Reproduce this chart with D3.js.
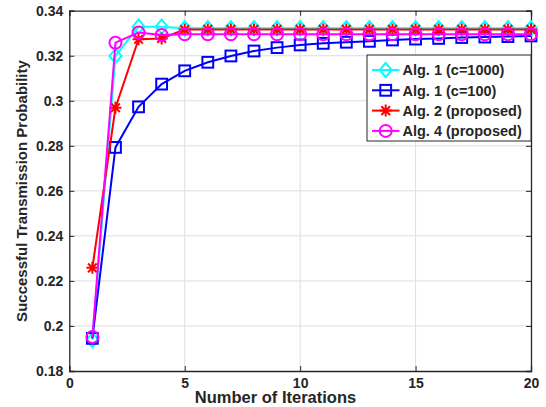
<!DOCTYPE html>
<html>
<head>
<meta charset="utf-8">
<script src="https://cdn.jsdelivr.net/npm/d3@7"></script>
<style>
  html, body { margin: 0; padding: 0; background: #fff; }
  svg text { font-family: "Liberation Sans", Arial, Helvetica, sans-serif; font-weight: bold; fill: #262626; }
</style>
</head>
<body>
<svg id="chart" width="546" height="407"></svg>
<script>
// Iteration index on the x axis
const iterations = [1, 2, 3, 4, 5, 6, 7, 8, 9, 10, 11, 12, 13, 14, 15, 16, 17, 18, 19, 20];

// Successful transmission probability per algorithm
const alg1c1000 = [0.1938, 0.3199, 0.3329, 0.3329, 0.3322, 0.3322, 0.3322, 0.3322, 0.3322, 0.3322,
                   0.3322, 0.3322, 0.3322, 0.3322, 0.3322, 0.3322, 0.3322, 0.3322, 0.3322, 0.3322];
const alg1c100  = [0.1945, 0.2793, 0.2973, 0.3074, 0.3133, 0.3171, 0.3199, 0.3221, 0.3236, 0.3248,
                   0.3255, 0.3260, 0.3264, 0.3270, 0.3274, 0.3277, 0.3281, 0.3283, 0.3285, 0.3288];
const alg2      = [0.2258, 0.2969, 0.3273, 0.3277, 0.3316, 0.3317, 0.3317, 0.3317, 0.3317, 0.3317,
                   0.3317, 0.3317, 0.3317, 0.3317, 0.3317, 0.3317, 0.3317, 0.3317, 0.3317, 0.3317];
const alg4      = [0.1951, 0.3258, 0.3303, 0.3292, 0.3295, 0.3295, 0.3295, 0.3295, 0.3295, 0.3295,
                   0.3295, 0.3295, 0.3295, 0.3295, 0.3295, 0.3295, 0.3295, 0.3295, 0.3295, 0.3295];

const seriesNames = ["Alg. 1 (c=1000)", "Alg. 1 (c=100)", "Alg. 2 (proposed)", "Alg. 4 (proposed)"];
const seriesColors = ["#00ffff", "#0000ff", "#ff0000", "#ff00ff"];
const seriesMarkers = ["diamond", "square", "asterisk", "circle"];
const seriesValues = [alg1c1000, alg1c100, alg2, alg4];

const xTicks = [0, 5, 10, 15, 20];
const yTicks = [0.18, 0.2, 0.22, 0.24, 0.26, 0.28, 0.3, 0.32, 0.34];

const svg = d3.select("#chart");
const plotLeft = 69.3, plotRight = 531, plotTop = 10.7, plotBottom = 371;

const x = d3.scaleLinear().domain([0, 20]).range([plotLeft, plotRight]);
const y = d3.scaleLinear().domain([0.18, 0.34]).range([plotBottom, plotTop]);

// grid
const grid = svg.append("g").attr("stroke", "#dedede").attr("stroke-width", 1);
grid.selectAll("line.gx").data(xTicks.slice(1, -1)).join("line")
  .attr("x1", d => x(d)).attr("x2", d => x(d)).attr("y1", plotTop).attr("y2", plotBottom);
grid.selectAll("line.gy").data(yTicks.slice(1, -1)).join("line")
  .attr("x1", plotLeft).attr("x2", plotRight).attr("y1", d => y(d)).attr("y2", d => y(d));

// axes (ticks inward, box on all four sides)
const axisColor = "#262626";
const fmtY = d => String(+d.toFixed(2));
const xAxis = svg.append("g").attr("transform", `translate(0,${plotBottom})`)
  .call(d3.axisBottom(x).tickValues(xTicks).tickSize(-5).tickPadding(10).tickFormat(d3.format("d")));
const yAxis = svg.append("g").attr("transform", `translate(${plotLeft},0)`)
  .call(d3.axisLeft(y).tickValues(yTicks).tickSize(-5).tickPadding(6).tickFormat(fmtY));
const xTopAxis = svg.append("g").attr("transform", `translate(0,${plotTop})`)
  .call(d3.axisTop(x).tickValues(xTicks).tickSize(-5).tickFormat(""));
const yRightAxis = svg.append("g").attr("transform", `translate(${plotRight},0)`)
  .call(d3.axisRight(y).tickValues(yTicks).tickSize(-5).tickFormat(""));
[xAxis, yAxis, xTopAxis, yRightAxis].forEach(g => {
  g.select(".domain").attr("stroke", axisColor).attr("stroke-width", 1.3);
  g.selectAll(".tick line").attr("stroke", axisColor);
  g.selectAll(".tick text").attr("font-size", 14).attr("fill", axisColor)
    .style("font-family", "'Liberation Sans', Arial, sans-serif").style("font-weight", "bold");
});
xAxis.selectAll(".tick text").attr("dy", "0.5em");

// marker shapes
function drawMarker(g, type, color, size) {
  const s = size;
  if (type === "diamond") {
    g.append("path").attr("d", `M0,${-s * 1.2}L${s},0L0,${s * 1.2}L${-s},0Z`)
      .attr("fill", "none").attr("stroke", color).attr("stroke-width", 2);
  } else if (type === "square") {
    g.append("rect").attr("x", -s * 0.9).attr("y", -s * 0.9).attr("width", s * 1.8).attr("height", s * 1.8)
      .attr("fill", "none").attr("stroke", color).attr("stroke-width", 2);
  } else if (type === "circle") {
    g.append("circle").attr("r", s).attr("fill", "none").attr("stroke", color).attr("stroke-width", 2);
  } else if (type === "asterisk") {
    const d = s * 0.72;
    g.append("path")
      .attr("d", `M${-s},0L${s},0M0,${-s}L0,${s}M${-d},${-d}L${d},${d}M${-d},${d}L${d},${-d}`)
      .attr("stroke", color).attr("stroke-width", 2).attr("fill", "none");
  }
}

const line = d3.line().x(d => x(d[0])).y(d => y(d[1]));
seriesValues.forEach((vals, i) => {
  const pts = iterations.map((it, j) => [it, vals[j]]);
  const g = svg.append("g");
  g.append("path").datum(pts).attr("d", line)
    .attr("fill", "none").attr("stroke", seriesColors[i]).attr("stroke-width", 2);
  pts.forEach(p => {
    const m = g.append("g").attr("transform", `translate(${x(p[0])},${y(p[1])})`);
    drawMarker(m, seriesMarkers[i], seriesColors[i], 6);
  });
});

// axis titles
svg.append("text").attr("x", 275.5).attr("y", 402.5).attr("text-anchor", "middle")
  .attr("font-size", 16.5).text("Number of Iterations");
svg.append("text").attr("transform", "translate(27,191) rotate(-90)").attr("text-anchor", "middle")
  .attr("font-size", 15).text("Successful Transmission Probability");

// legend
const lg = svg.append("g");
lg.append("rect").attr("x", 367).attr("y", 55).attr("width", 164).attr("height", 86)
  .attr("fill", "#fff").attr("stroke", axisColor).attr("stroke-width", 1);
seriesNames.forEach((name, i) => {
  const cy = 70 + i * 20.3;
  lg.append("line").attr("x1", 372).attr("x2", 399.5).attr("y1", cy).attr("y2", cy)
    .attr("stroke", seriesColors[i]).attr("stroke-width", 2);
  const m = lg.append("g").attr("transform", `translate(385.7,${cy})`);
  drawMarker(m, seriesMarkers[i], seriesColors[i], 6);
  lg.append("text").attr("x", 402.5).attr("y", cy).attr("dy", "0.36em").attr("font-size", 14.5)
    .attr("fill", "#000").text(name);
});
</script>
</body>
</html>
